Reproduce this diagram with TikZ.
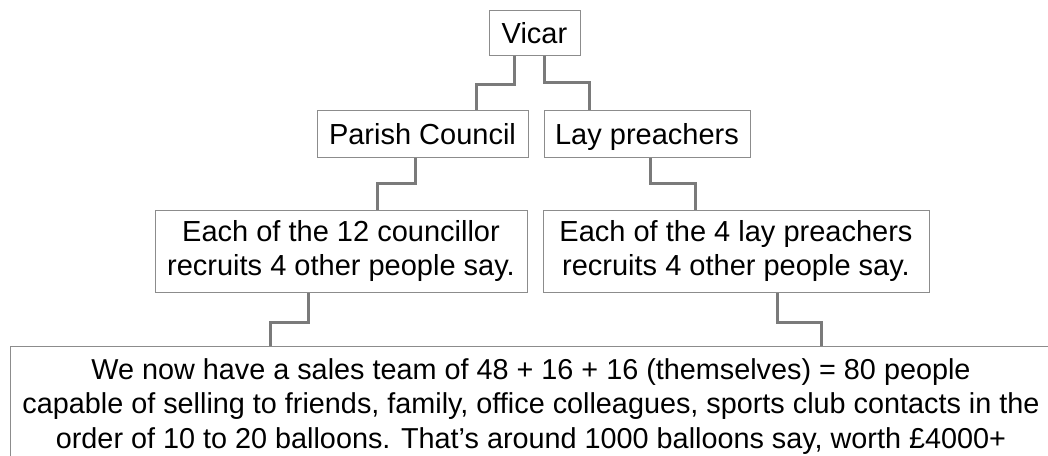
\documentclass[tikz,border=0pt]{standalone}
\usepackage{fontspec}
\setmainfont{Liberation Sans}
\usepackage{tikz}

\begin{document}
\begin{tikzpicture}[x=1pt, y=-1pt,
    box/.style={draw=black!45, line width=1pt, fill=white, inner sep=0pt, align=center, font=\fontsize{29}{34}\selectfont},
    onebox/.style={box, text height=21pt, text depth=0pt},
    bigbox/.style={box, font=\fontsize{28.8}{34.5}\selectfont},
    link/.style={draw=black!52, line width=3pt}]
						\useasboundingbox (0, 0) rectangle (1048, 455);
						\clip (0, 0) rectangle (1048, 455);
						\node[onebox, minimum width=91pt, minimum height=45pt] (vicar) at (534.5, 32.5) {Vicar};
						\node[onebox, minimum width=211pt, minimum height=47pt] (parish) at (422.5, 133.5) {Parish Council};
						\node[onebox, minimum width=206pt, minimum height=47pt] (lay) at (647, 133.5) {Lay preachers};
						\node[box, minimum width=372pt, minimum height=82pt] (council12) at (341, 251) {Each of the 12 councillor\\recruits 4 other people say.};
						\node[box, minimum width=386pt, minimum height=82pt] (lay4) at (736, 251) {Each of the 4 lay preachers\\recruits 4 other people say.};
						\node[bigbox, minimum width=1042pt, minimum height=120pt, anchor=north west] (team) at (9.5, 346) {We now have a sales team of 48 + 16 + 16 (themselves) = 80 people\\capable of selling to friends, family, office colleagues, sports club contacts in the\\order of 10 to 20 balloons. That’s around 1000 balloons say, worth £4000+};
						\draw[link] ([xshift=-20]vicar.south) -- ++(0, 29) -| ([xshift=53.5]parish.north);
						\draw[link] ([xshift=10]vicar.south) -- ++(0, 27) -| ([xshift=-58]lay.north);
						\draw[link] ([xshift=-7.5]parish.south) -- ++(0, 26) -| ([xshift=36]council12.north);
						\draw[link] ([xshift=3]lay.south) -- ++(0, 26) -| ([xshift=-41]lay4.north);
						\draw[link] ([xshift=-33]council12.south) -- ++(0, 30) -| ([xshift=-260.5]team.north);
						\draw[link] ([xshift=41]lay4.south) -- ++(0, 30) -| ([xshift=290.5]team.north);
					\end{tikzpicture}
\end{document}
